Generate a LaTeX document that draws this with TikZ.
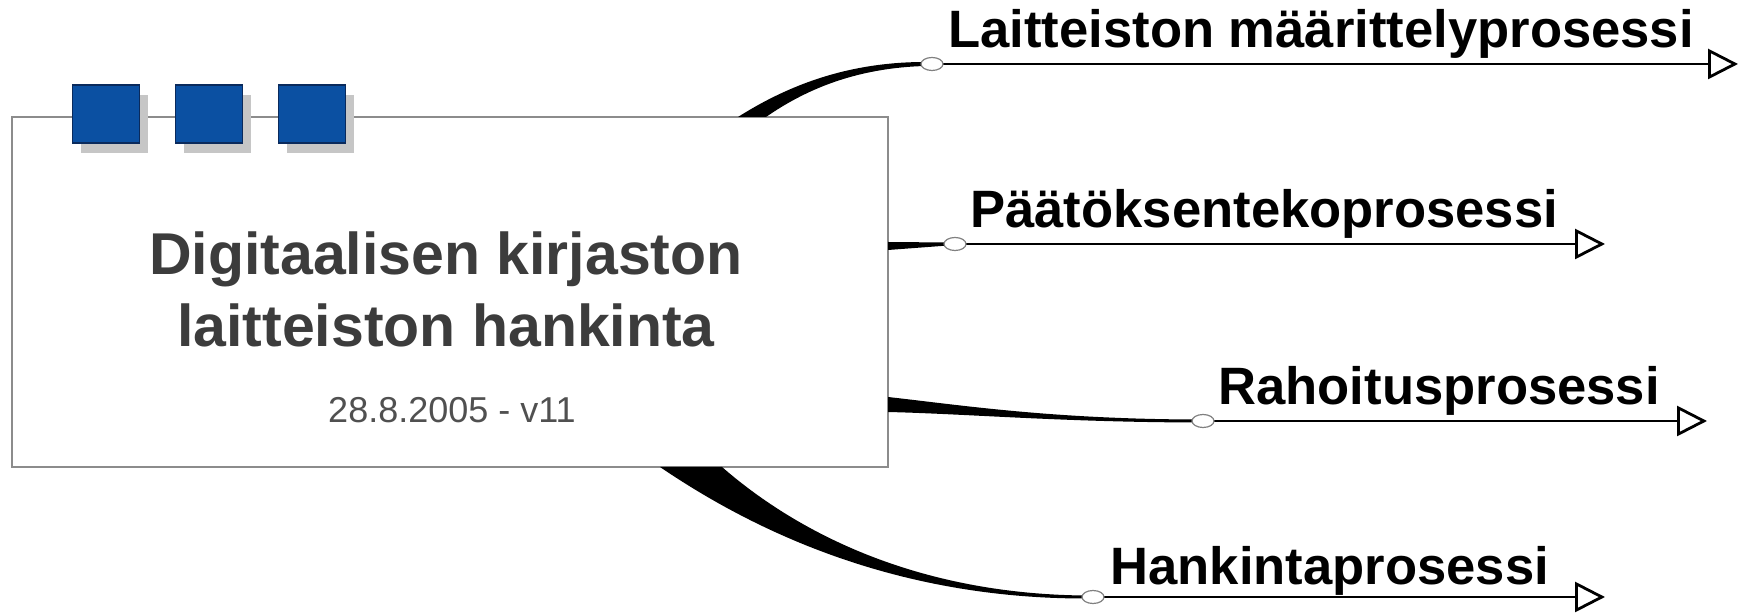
\documentclass[tikz,border=0pt]{standalone}
\usepackage{fontspec}
\setmainfont{Liberation Sans}
\usetikzlibrary{arrows.meta,shapes.geometric,shadows}
\definecolor{mapblue}{HTML}{0B50A2}
\definecolor{navy}{HTML}{0A2A5C}
\definecolor{boxgray}{HTML}{8C8C8C}
\definecolor{shade}{HTML}{C6C6C6}
\definecolor{titlegray}{HTML}{3C3C3C}
\definecolor{dategray}{HTML}{505050}
\begin{document}
\begin{tikzpicture}[x=0.5pt, y=-0.5pt,
		hub/.style = {draw=boxgray, line width=1pt, fill=white, minimum width=438pt, minimum height=175pt, inner sep=0pt},
		tab/.style = {draw=navy, fill=mapblue, line width=0.6pt, minimum width=33.5pt, minimum height=29pt, inner sep=0pt,
			drop shadow={shadow xshift=4pt, shadow yshift=-5pt, fill=shade, opacity=1}},
		knot/.style = {ellipse, draw=gray, fill=white, line width=0.6pt, minimum width=11pt, minimum height=6.5pt, inner sep=0pt},
		branch/.style = {line width=1.2pt, -{Triangle[open, length=15pt, width=15pt, line width=1.4pt]}},
		lbl/.style = {anchor=base west, inner sep=0pt, font=\bfseries\fontsize{26.3}{30}\selectfont}]
	\useasboundingbox (0,0) rectangle (1744,613);
	
	\node[hub] (hub) at (450,292) {};
	\node[tab] (s1) at (106,114) {};
	\node[tab] (s2) at (209,114) {};
	\node[tab] (s3) at (312,114) {};
	\node[anchor=base, align=center, inner sep=0pt, text=titlegray, font=\bfseries\fontsize{29.5}{36}\selectfont] (title) at (446,347) {Digitaalisen kirjaston\\laitteiston hankinta};
	\node[anchor=base, inner sep=0pt, text=dategray, font=\fontsize{18}{22}\selectfont] (date) at (452,423) {28.8.2005 - v11};
	
	\fill (738,117) .. controls (790,84) and (850,62) .. (925,62) -- (925,66) .. controls (855,68) and (805,90) .. (766,117) -- cycle;
	\fill (888,242) -- (948,242.5) -- (948,245.5) -- (888,250) -- cycle;
	\fill (888,397) .. controls (960,405) and (1050,419) .. (1195,419.5) -- (1195,422.5) .. controls (1060,422) and (970,414) .. (888,412) -- cycle;
	\fill (660,467) .. controls (760,535) and (900,598.5) .. (1085,598.5) -- (1085,595.5) .. controls (920,594) and (800,535) .. (722,467) -- cycle;
	
	\coordinate (e1) at (1738,64);
	\coordinate (e2) at (1605,244);
	\coordinate (e3) at (1707,421);
	\coordinate (e4) at (1605,597);
	
	\draw[branch] (932,64) -- (e1);
	\draw[branch] (955,244) -- (e2);
	\draw[branch] (1203,421) -- (e3);
	\draw[branch] (1093,597) -- (e4);
	
	\node[knot] (k1) at (932,64) {};
	\node[knot] (k2) at (955,244) {};
	\node[knot] (k3) at (1203,421) {};
	\node[knot] (k4) at (1093,597) {};
	
	\node[lbl] (l1) at (948,48) {Laitteiston määrittelyprosessi};
	\node[lbl] (l2) at (970,228) {Päätöksentekoprosessi};
	\node[lbl] (l3) at (1218,405) {Rahoitusprosessi};
	\node[lbl] (l4) at (1110,585) {Hankintaprosessi};
\end{tikzpicture}
\end{document}
